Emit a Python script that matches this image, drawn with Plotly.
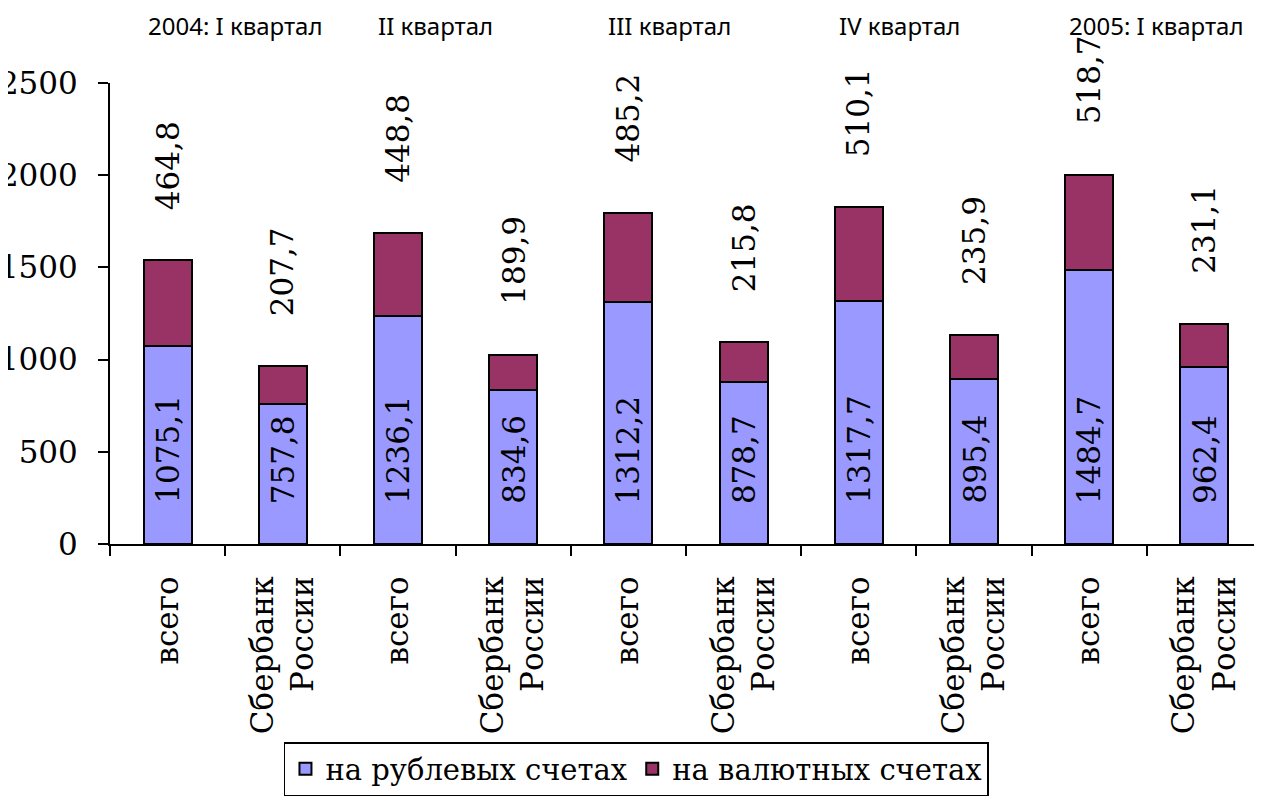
import plotly.graph_objects as go

categories = ["всего", "Сбербанк<br>России"] * 5
quarters = ["2004: I квартал", "II квартал", "III квартал", "IV квартал", "2005: I квартал"]
rub = [1075.1, 757.8, 1236.1, 834.6, 1312.2, 878.7, 1317.7, 895.4, 1484.7, 962.4]
val = [464.8, 207.7, 448.8, 189.9, 485.2, 215.8, 510.1, 235.9, 518.7, 231.1]
series_names = ["на рублевых счетах", "на валютных счетах"]
y_ticks = [0, 500, 1000, 1500, 2000, 2500]

x = list(range(len(categories)))
SERIF = "DejaVu Serif"
SANS = "Noto Sans"

def fmt(v):
    return f"{v:.1f}".replace(".", ",")

serif_font = dict(family=SERIF, size=31, color="black")

fig = go.Figure()
fig.add_trace(go.Bar(x=x, y=rub, name=series_names[0],
                     marker=dict(color="#9999FF", line=dict(color="black", width=2))))
fig.add_trace(go.Bar(x=x, y=val, name=series_names[1],
                     marker=dict(color="#993366", line=dict(color="black", width=2))))

annotations = []
for i in x:
    annotations.append(dict(x=i, y=0, xref="x", yref="y", text=fmt(rub[i]), textangle=-90,
                            showarrow=False, yanchor="bottom", xanchor="center", yshift=38,
                            font=serif_font))
    annotations.append(dict(x=i, y=rub[i] + val[i], xref="x", yref="y", text=fmt(val[i]),
                            textangle=-90, showarrow=False, yanchor="bottom", xanchor="center",
                            yshift=48, font=serif_font))
for k, q in enumerate(quarters):
    annotations.append(dict(x=2 * k, y=1.1255, xref="x", yref="paper", text=q, showarrow=False,
                            xanchor="left", yanchor="middle", xshift=-22,
                            font=dict(family=SANS, size=24, color="black")))

fig.update_layout(
    template="none",
    font=dict(family=SERIF, size=31, color="black"),
    width=1254, height=788,
    margin=dict(l=102, r=0, t=75, b=251, pad=0),
    paper_bgcolor="white", plot_bgcolor="white",
    barmode="stack", bargap=0.584,
    showlegend=True,
    legend=dict(orientation="h", x=0.457, xanchor="center", y=-0.431, yanchor="top",
                bordercolor="black", borderwidth=1.5, bgcolor="white",
                font=dict(family=SERIF, size=29, color="black"),
                itemclick=False, traceorder="normal"),
    annotations=annotations,
    xaxis=dict(range=[-0.5, 9.5], tickvals=x, ticktext=categories, tickangle=-90,
               ticks="", showgrid=False, zeroline=False, automargin=False,
               showline=True, linecolor="black", linewidth=2,
               tickfont=serif_font,
               ticklabelstandoff=18,
               minor=dict(tick0=0.5, dtick=1, ticks="outside", ticklen=10,
                          tickwidth=2, tickcolor="black", showgrid=False)),
    yaxis=dict(range=[0, 2500], tickvals=y_ticks, ticks="outside", ticklen=10, tickwidth=2,
               tickcolor="black", showgrid=False, zeroline=False, automargin=False,
               showline=True, linecolor="black", linewidth=2,
               tickfont=serif_font,
               ticklabelstandoff=14),
)

fig.write_html("out.html")
